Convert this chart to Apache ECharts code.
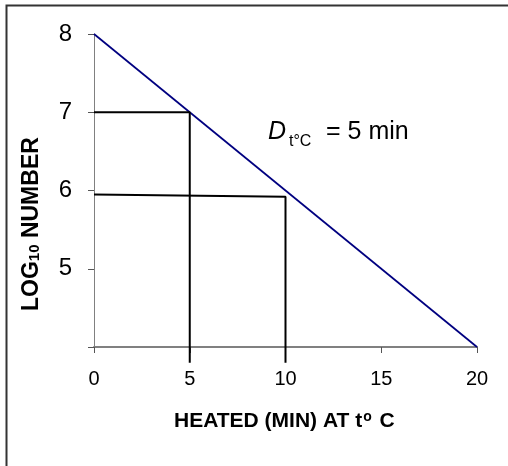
<!DOCTYPE html>
<html>
<head>
<meta charset="utf-8">
<script src="https://cdn.jsdelivr.net/npm/echarts@6/dist/echarts.min.js"></script>
<style>
html,body{margin:0;padding:0;background:#fff;}
#c{width:508px;height:466px;}
</style>
</head>
<body>
<div id="c"></div>
<script>
// Data
const xTickValues = [0, 5, 10, 15, 20];
const yTickValues = [4, 5, 6, 7, 8];
const survivorX = [0, 20];
const survivorY = [8, 4];
const guide1X = [0, 5, 5];
const guide1Y = [7, 7, 3.8];
const guide2X = [0, 10, 10];
const guide2Y = [5.95, 5.92, 3.8];

const FONT = '"Liberation Sans", Arial, sans-serif';
const chart = echarts.init(document.getElementById('c'), null, {renderer: 'canvas'});

function pairs(xs, ys) { return xs.map((x, i) => [x, ys[i]]); }

chart.setOption({
  animation: false,
  backgroundColor: '#fff',
  grid: {left: 94, right: 31, top: 34, bottom: 119, containLabel: false},
  xAxis: {
    type: 'value', min: 0, max: 20, interval: 5,
    axisLine: {lineStyle: {color: '#808080', width: 2}},
    axisTick: {show: true, length: 6, lineStyle: {color: '#555', width: 1}},
    axisLabel: {fontFamily: FONT, fontSize: 20, color: '#000', margin: 22},
    splitLine: {show: false}
  },
  yAxis: {
    type: 'value', min: 4, max: 8, interval: 1,
    axisLine: {show: true, lineStyle: {color: '#808080', width: 1}},
    axisTick: {show: true, length: 6, lineStyle: {color: '#555', width: 1}},
    axisLabel: {fontFamily: FONT, fontSize: 24, color: '#000', margin: 22,
      formatter: v => (v === 4 ? '' : String(v))},
    splitLine: {show: false}
  },
  series: [
    {type: 'line', data: pairs(survivorX, survivorY), symbol: 'none', clip: false,
     lineStyle: {color: '#000080', width: 1.7}, z: 3},
    {type: 'line', data: pairs(guide1X, guide1Y), symbol: 'none', clip: false,
     lineStyle: {color: '#000', width: 2}, z: 4},
    {type: 'line', data: pairs(guide2X, guide2Y), symbol: 'none', clip: false,
     lineStyle: {color: '#000', width: 2}, z: 4}
  ],
  graphic: [
    {type: 'rect', shape: {x: 6.5, y: 5.5, width: 540, height: 500}, silent: true,
     style: {fill: 'none', stroke: '#333', lineWidth: 2}, z: 0},
    {type: 'text', left: 268, top: 120,
     style: {text: 'D', font: 'italic 25px ' + FONT, fill: '#000'}},
    {type: 'text', left: 289, top: 134,
     style: {text: 't°C', font: '16px ' + FONT, fill: '#000'}},
    {type: 'text', left: 326, top: 120,
     style: {text: '= 5 min', font: '25px ' + FONT, fill: '#000'}},
    {type: 'text', left: 174, top: 410,
     style: {rich: {b: {fontFamily: FONT, fontWeight: 'bold', fontSize: 21, fill: '#000'},
                    s: {fontFamily: FONT, fontWeight: 'bold', fontSize: 14, fill: '#000', verticalAlign: 'top', padding: [0,2,8,1]}},
             text: '{b|HEATED (MIN) AT t}{s|o}{b| C}'}},
    {type: 'text', x: 20, y: 311, rotation: Math.PI / 2,
     style: {rich: {b: {fontFamily: FONT, fontWeight: 'bold', fontSize: 23, fill: '#000'},
                    s: {fontFamily: FONT, fontWeight: 'bold', fontSize: 15, fill: '#000', padding: [7,0,0,0]}},
             text: '{b|LOG}{s|10}{b| NUMBER}', align: 'left', verticalAlign: 'top'}}
  ]
});
</script>
</body>
</html>
